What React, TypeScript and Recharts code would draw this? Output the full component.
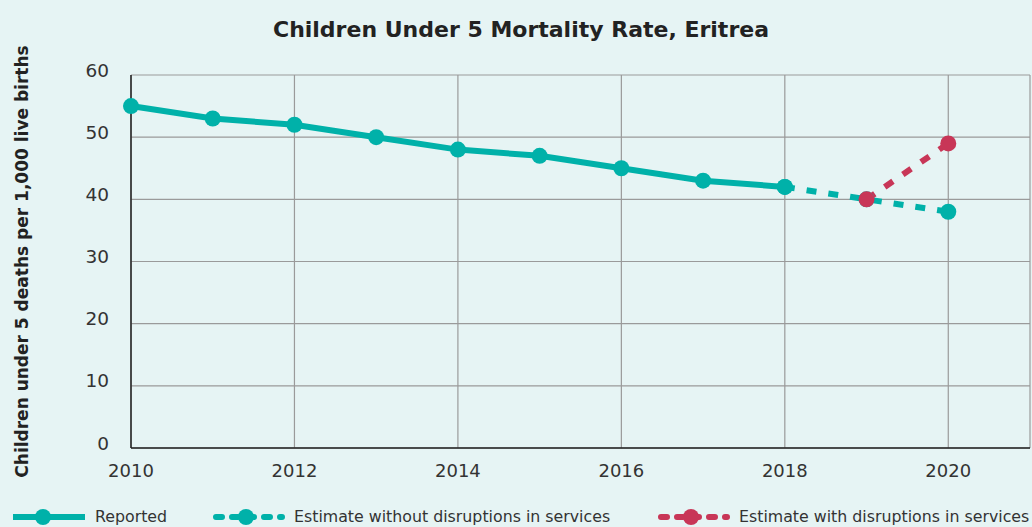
import { LineChart, Line, XAxis, YAxis, CartesianGrid, Legend } from 'recharts';

// ─── Data ───────────────────────────────────────────────
const years = [2010, 2011, 2012, 2013, 2014, 2015, 2016, 2017, 2018, 2019, 2020];
const reported = [55, 53, 52, 50, 48, 47, 45, 43, 42, null, null];
const estimateWithout = [null, null, null, null, null, null, null, null, 42, 40, 38];
const estimateWith = [null, null, null, null, null, null, null, null, null, 40, 49];

const xTicks = [2010, 2012, 2014, 2016, 2018, 2020];
const yTicks = [0, 10, 20, 30, 40, 50, 60];

const TEAL = '#00b1a9';
const RED = '#c83657';
const BG = '#e6f4f4';
const FONT = '"DejaVu Sans", "Noto Sans", sans-serif';

const rows = years.map((year, i) => ({
  year,
  reported: reported[i],
  without: estimateWithout[i],
  with: estimateWith[i],
}));

const legendItems = [
  { label: 'Reported', color: TEAL, dashed: false, left: 13 },
  { label: 'Estimate without disruptions in services', color: TEAL, dashed: true, left: 212 },
  { label: 'Estimate with disruptions in services', color: RED, dashed: true, left: 657 },
];

function LegendIcon({ color, dashed }: { color: string; dashed: boolean }) {
  return (
    <svg width={74} height={20} style={{ display: 'block' }}>
      {dashed ? (
        <line x1={4} y1={10} x2={70} y2={10} stroke={color} strokeWidth={6} strokeDasharray="6 10" strokeLinecap="round" />
      ) : (
        <line x1={0} y1={10} x2={72} y2={10} stroke={color} strokeWidth={6} />
      )}
      <circle cx={dashed ? 34 : 30} cy={10} r={8} fill={color} />
    </svg>
  );
}

function CustomLegend() {
  return (
    <div style={{ position: 'relative', width: 1032, height: 24 }}>
      {legendItems.map((it) => (
        <div
          key={it.label}
          style={{ position: 'absolute', left: it.left, top: 2, display: 'flex', alignItems: 'center', gap: 8 }}
        >
          <LegendIcon color={it.color} dashed={it.dashed} />
          <span style={{ fontFamily: FONT, fontSize: 15.8, color: '#333', whiteSpace: 'nowrap', lineHeight: '20px' }}>
            {it.label}
          </span>
        </div>
      ))}
    </div>
  );
}

export default function App() {
  return (
    <div style={{ position: 'absolute', left: 0, top: 0, width: 1032, height: 527, background: BG, overflow: 'hidden' }}>
      <div
        style={{
          position: 'absolute',
          top: 17,
          left: 0,
          width: 1042,
          textAlign: 'center',
          fontFamily: FONT,
          fontWeight: 700,
          fontSize: 22,
          color: '#222',
        }}
      >
        Children Under 5 Mortality Rate, Eritrea
      </div>
      <LineChart width={1032} height={527} data={rows} margin={{ top: 75, right: 2, bottom: 25, left: 0 }}>
        <CartesianGrid stroke="#9a9a9a" strokeWidth={1.2} />
        <XAxis
          dataKey="year"
          type="number"
          domain={[2010, 2021]}
          ticks={xTicks}
          tickLine={false}
          axisLine={{ stroke: '#222', strokeWidth: 1.5 }}
          tick={{ fill: '#333', fontSize: 18, fontFamily: FONT }}
          tickMargin={10}
          height={30}
        />
        <YAxis
          type="number"
          domain={[0, 60]}
          ticks={yTicks}
          width={131}
          tickLine={false}
          axisLine={{ stroke: '#222', strokeWidth: 1.5 }}
          tick={{ fill: '#333', fontSize: 18.5, fontFamily: FONT, dy: -5 }}
          tickMargin={16}
          label={{
            value: 'Children under 5 deaths per 1,000 live births',
            angle: -90,
            position: 'center',
            dx: -44,
            style: { fill: '#222', fontSize: 17, fontWeight: 700, fontFamily: FONT, textAnchor: 'middle' },
          }}
        />
        <Legend verticalAlign="bottom" content={<CustomLegend />} wrapperStyle={{ left: 0, bottom: -2, height: 24 }} />
        <Line
          dataKey="reported"
          stroke={TEAL}
          strokeWidth={6}
          dot={{ r: 8, fill: TEAL, stroke: 'none' }}
          activeDot={false}
          isAnimationActive={false}
        />
        <Line
          dataKey="without"
          stroke={TEAL}
          strokeWidth={6}
          strokeDasharray="10 12"
          dot={{ r: 8, fill: TEAL, stroke: 'none' }}
          activeDot={false}
          isAnimationActive={false}
        />
        <Line
          dataKey="with"
          stroke={RED}
          strokeWidth={6}
          strokeDasharray="10 12"
          dot={{ r: 8, fill: RED, stroke: 'none' }}
          activeDot={false}
          isAnimationActive={false}
        />
      </LineChart>
    </div>
  );
}
